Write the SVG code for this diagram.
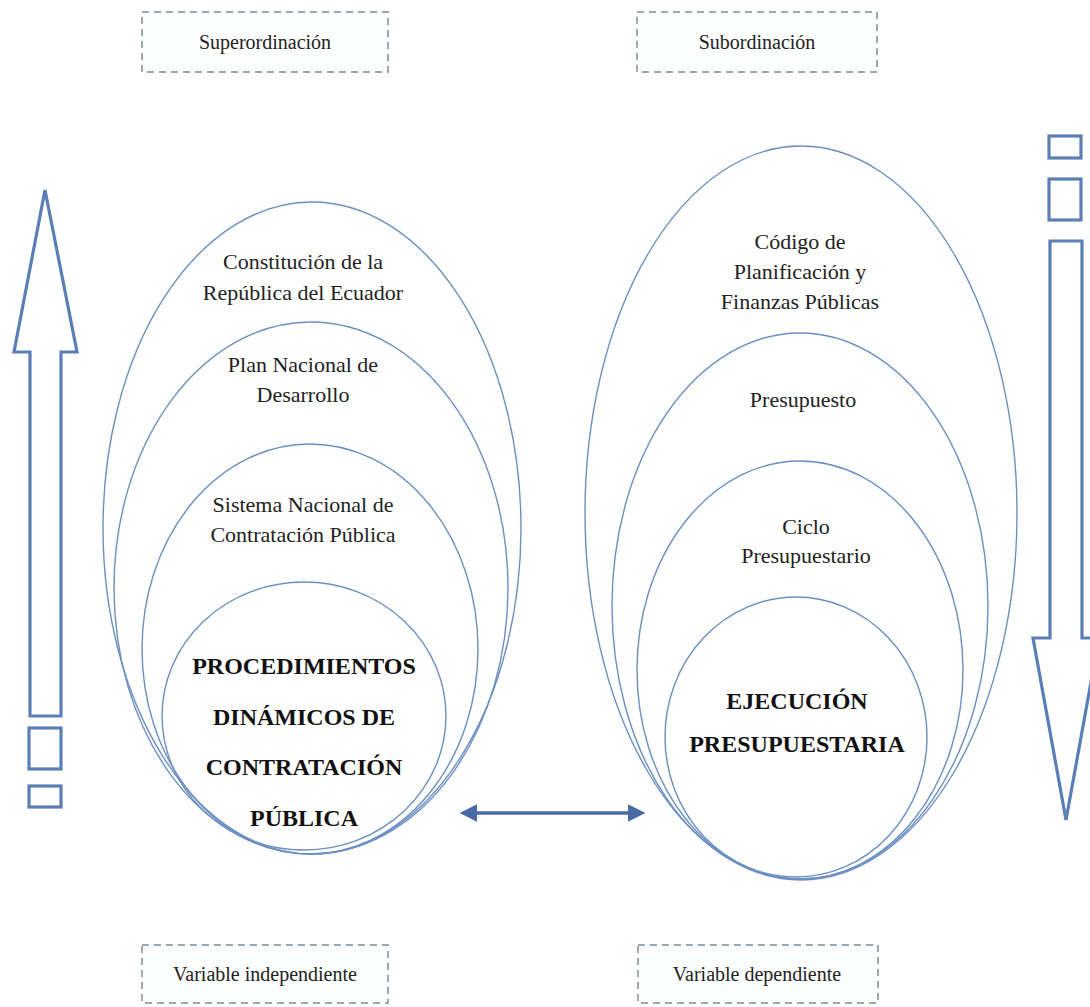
<svg xmlns="http://www.w3.org/2000/svg" width="1090" height="1007" viewBox="0 0 1090 1007">
<style>
.bg{fill:#ffffff}
.lbl{fill:#fdfefe;stroke:#7f8c99;stroke-width:1.5;stroke-dasharray:7 5}
.t{font-family:"Liberation Serif","Times New Roman",serif;font-size:22px;fill:#222;text-anchor:middle}
.tl{font-family:"Liberation Serif","Times New Roman",serif;font-size:20px;fill:#222;text-anchor:middle}
.b{font-family:"Liberation Serif","Times New Roman",serif;font-size:24px;font-weight:bold;fill:#111;text-anchor:middle}
.e{fill:none;stroke:#6b8fc0;stroke-width:1.4}
.ar{fill:#ffffff;stroke:#5b7fb4;stroke-width:3.2;stroke-linejoin:miter}
</style>
<defs>
<marker id="ah" viewBox="0 0 10 10" refX="8" refY="5" markerWidth="5" markerHeight="5" orient="auto-start-reverse">
<path d="M0,0 L10,5 L0,10 z" fill="#4a6aa6"/>
</marker>
</defs>
<rect class="bg" width="1090" height="1007"/>

<g id="superordinacion">
<rect class="lbl" x="142" y="12" width="246" height="60"/>
<text class="tl" x="265" y="49">Superordinación</text>
</g>
<g id="subordinacion">
<rect class="lbl" x="637" y="12" width="240" height="60"/>
<text class="tl" x="757" y="49">Subordinación</text>
</g>
<g id="var-independiente">
<rect class="lbl" x="142" y="945" width="246" height="58"/>
<text class="tl" x="265" y="981">Variable independiente</text>
</g>
<g id="var-dependiente">
<rect class="lbl" x="638" y="945" width="240" height="58"/>
<text class="tl" x="757" y="981">Variable dependiente</text>
</g>

<g id="constitucion">
<ellipse class="e" cx="312" cy="528" rx="209" ry="326"/>
<text class="t" x="303" y="269">Constitución de la</text>
<text class="t" x="303" y="300">República del Ecuador</text>
</g>
<g id="plan-nacional">
<ellipse class="e" cx="311" cy="588" rx="197" ry="266"/>
<text class="t" x="303" y="372">Plan Nacional de</text>
<text class="t" x="303" y="402">Desarrollo</text>
</g>
<g id="sistema-nacional">
<ellipse class="e" cx="310" cy="649" rx="168" ry="205"/>
<text class="t" x="303" y="512">Sistema Nacional de</text>
<text class="t" x="303" y="542">Contratación Pública</text>
</g>
<g id="procedimientos">
<ellipse class="e" cx="304" cy="716" rx="142" ry="134"/>
<text class="b" x="304" y="674">PROCEDIMIENTOS</text>
<text class="b" x="304" y="725">DINÁMICOS DE</text>
<text class="b" x="304" y="775">CONTRATACIÓN</text>
<text class="b" x="304" y="826">PÚBLICA</text>
</g>

<g id="codigo">
<ellipse class="e" cx="801" cy="513" rx="216" ry="367"/>
<text class="t" x="800" y="249">Código de</text>
<text class="t" x="800" y="279">Planificación y</text>
<text class="t" x="800" y="309">Finanzas Públicas</text>
</g>
<g id="presupuesto">
<ellipse class="e" cx="800" cy="606" rx="188" ry="273"/>
<text class="t" x="803" y="407">Presupuesto</text>
</g>
<g id="ciclo">
<ellipse class="e" cx="800" cy="670" rx="163" ry="209"/>
<text class="t" x="806" y="534">Ciclo</text>
<text class="t" x="806" y="563">Presupuestario</text>
</g>
<g id="ejecucion">
<ellipse class="e" cx="796" cy="737" rx="131" ry="140"/>
<text class="b" x="797" y="709">EJECUCIÓN</text>
<text class="b" x="797" y="752">PRESUPUESTARIA</text>
</g>

<g id="flecha-arriba">
<path class="ar" d="M30,716 L30,352 L14,352 L45,190 L77,352 L61,352 L61,716 Z"/>
<rect class="ar" x="29" y="728" width="32" height="41"/>
<rect class="ar" x="29" y="786" width="32" height="21"/>
</g>
<g id="flecha-abajo">
<rect class="ar" x="1049" y="136" width="32" height="22"/>
<rect class="ar" x="1049" y="179" width="32" height="41"/>
<path class="ar" d="M1050,241 L1082,241 L1082,638 L1099,638 L1066,820 L1033,638 L1050,638 Z"/>
</g>

<g id="connectors">
<line x1="463" y1="813" x2="642" y2="813" stroke="#4a6aa6" stroke-width="3.5" marker-start="url(#ah)" marker-end="url(#ah)"/>
</g>
</svg>
